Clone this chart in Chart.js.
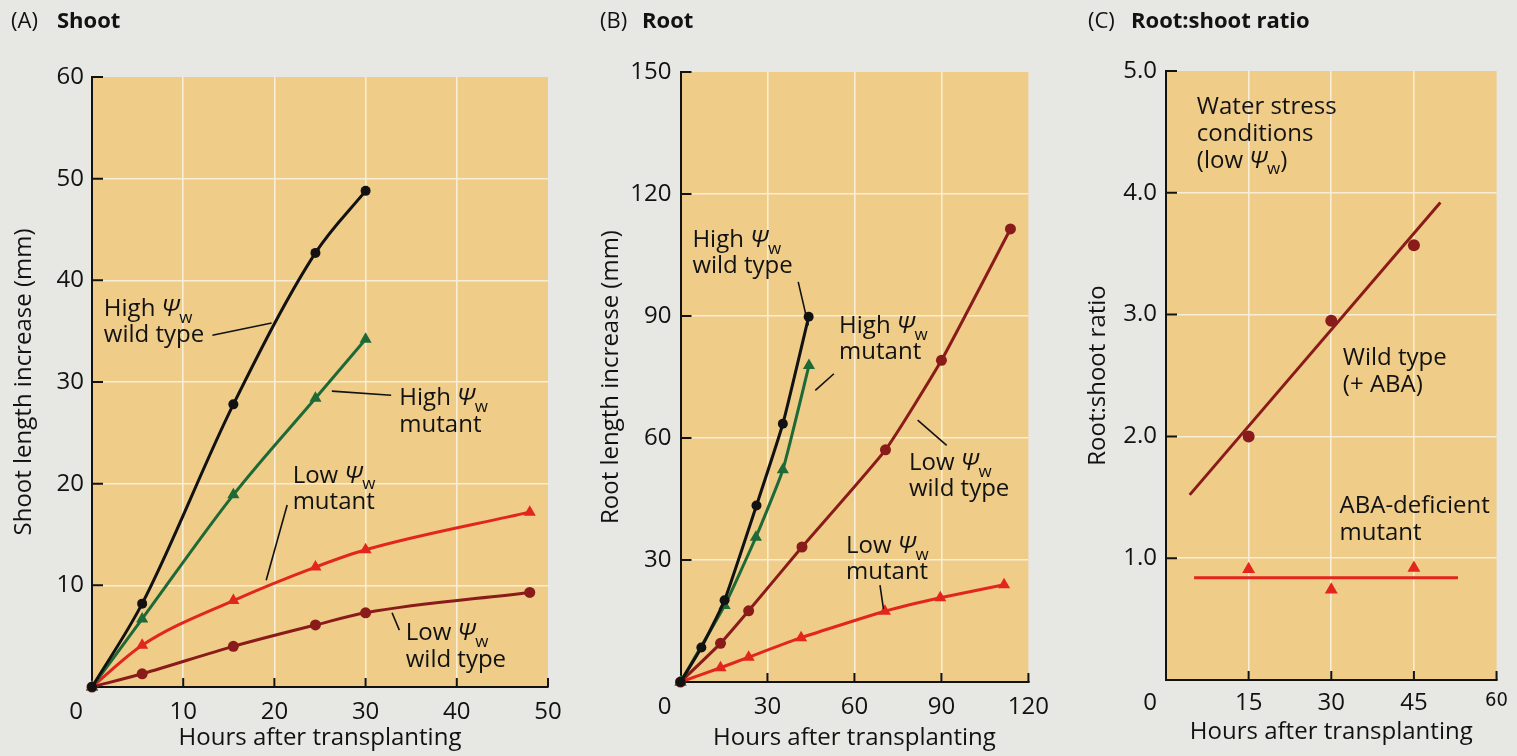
<!DOCTYPE html>
<html><head><meta charset="utf-8">
<script src="https://cdn.jsdelivr.net/npm/chart.js@4.4.0/dist/chart.umd.min.js"></script>
<style>
html,body{margin:0;padding:0;background:#e7e7e4;width:1517px;height:756px;overflow:hidden}
.p{position:absolute;top:0;height:756px}
canvas{display:block}
</style></head><body>
<div class="p" style="left:0;width:590px"><canvas id="cA" width="590" height="756"></canvas></div>
<div class="p" style="left:590px;width:470px"><canvas id="cB" width="470" height="756"></canvas></div>
<div class="p" style="left:1060px;width:457px"><canvas id="cC" width="457" height="756"></canvas></div>
<script>
// ---------- DATA ----------
// (A) Shoot
const shootHours      = [0, 5.5, 15.5, 24.5, 30, 48];
const shootHighWild   = [0, 8.2, 27.8, 42.7, 48.8];
const shootHighMutant = [0, 6.7, 18.9, 28.4, 34.2];
const shootLowMutant  = [0, 4.1, 8.5, 11.8, 13.5, 17.2];
const shootLowWild    = [0, 1.3, 4.0, 6.1, 7.3, 9.3];
const shootXTicks = [0, 10, 20, 30, 40, 50];
const shootYTicks = [0, 10, 20, 30, 40, 50, 60];

// (B) Root
const rootHoursHighWild   = [0, 7.2, 15.2, 26.2, 35.3, 44.2];
const rootHighWild        = [0, 8.5, 20.1, 43.4, 63.5, 89.8];
const rootHoursHighMutant = [0, 15.2, 26.0, 35.3, 44.3];
const rootHighMutant      = [0, 18.8, 35.6, 52.2, 77.8];
const rootHoursLowWild    = [0, 13.8, 23.5, 41.9, 70.7, 90, 113.8];
const rootLowWild         = [0, 9.5, 17.5, 33.2, 57.1, 79.1, 111.4];
const rootHoursLowMutant  = [0, 13.8, 23.5, 41.6, 70.5, 89.6, 111.6];
const rootLowMutant       = [0, 3.5, 6.1, 10.9, 17.4, 20.7, 23.9];
const rootXTicks = [0, 30, 60, 90, 120];
const rootYTicks = [0, 30, 60, 90, 120, 150];

// (C) Root:shoot ratio
const ratioHours       = [15, 30, 45];
const ratioWildABA     = [2.0, 2.95, 3.57];
const ratioMutant      = [0.91, 0.74, 0.92];
const ratioWildFitX    = [4.3, 49.8];
const ratioWildFitY    = [1.52, 3.92];
const ratioMutantFitX  = [5.1, 53];
const ratioMutantFitY  = [0.84, 0.84];
const ratioXTicks = [0, 15, 30, 45, 60];
const ratioYTicks = [0, 1, 2, 3, 4, 5];

// Text labels
const panelTitles = [['(A)', 'Shoot'], ['(B)', 'Root'], ['(C)', 'Root:shoot ratio']];
const xTitle = 'Hours after transplanting';
const yTitles = ['Shoot length increase (mm)', 'Root length increase (mm)', 'Root:shoot ratio'];
const shootNotes = [
  {lines: ['High *Ψ*_w_', 'wild type'], at: [1.3, 36.5], leader: [[13.2, 34.6], [19.7, 35.8]]},
  {lines: ['High *Ψ*_w_', 'mutant'], at: [33.7, 27.7], leader: [[26.3, 29.1], [32.8, 28.7]]},
  {lines: ['Low *Ψ*_w_', 'mutant'], at: [22.0, 20.1], leader: [[21.4, 17.9], [19.1, 10.5]]},
  {lines: ['Low *Ψ*_w_', 'wild type'], at: [34.4, 4.6], leader: [[32.9, 7.3], [33.7, 5.6]]}
];
const rootNotes = [
  {lines: ['High *Ψ*_w_', 'wild type'], at: [4.1, 107.0], leader: [[40.6, 98.4], [44.1, 87.7]]},
  {lines: ['High *Ψ*_w_', 'mutant'], at: [54.7, 85.7], leader: [[52.9, 75.8], [46.5, 71.7]]},
  {lines: ['Low *Ψ*_w_', 'wild type'], at: [78.8, 52.1], leader: [[91.8, 58.2], [81.8, 64.4]]},
  {lines: ['Low *Ψ*_w_', 'mutant'], at: [57.1, 31.6], leader: [[68.8, 23.8], [70.0, 18.0]]}
];
const ratioNotes = [
  {lines: ['Water stress', 'conditions', '(low *Ψ*_w_)'], at: [5.6, 4.65]},
  {lines: ['Wild type', '(+ ABA)'], at: [32.1, 2.59]},
  {lines: ['ABA-deficient', 'mutant'], at: [31.5, 1.37]}
];

// ---------- STYLE ----------
const FONT = '"Open Sans", "DejaVu Sans", sans-serif';
const FS = 24;
const TAN = '#efcc88';
const GRID = '#f8eed5';
const INK = '#121212';
const C_BLACK = '#121212', C_GREEN = '#1e6a36', C_RED = '#e2261d', C_DARK = '#8a1b1b';

const pts = (xs, ys) => ys.map((y, i) => ({x: xs[i], y}));

function richText(ctx, x, y, str, size) {
  const parts = str.split(/(\*[^*]+\*|_[^_]+_)/).filter(s => s.length);
  let cx = x;
  for (const p of parts) {
    let s = size, dy = 0, st = '', t = p;
    if (p.startsWith('*')) { st = 'italic '; t = p.slice(1, -1); }
    else if (p.startsWith('_')) { s = Math.round(size * 0.72); dy = size * 0.28; t = p.slice(1, -1); }
    ctx.font = `${st}${s}px ${FONT}`;
    ctx.fillText(t, cx, y + dy);
    cx += ctx.measureText(t).width;
  }
}

function decoPlugin(idx, notes, lineGap, titleX, titleNameX) {
  return {
    id: 'deco' + idx,
    beforeDraw(chart) {
      const {ctx, chartArea: a} = chart;
      ctx.save();
      ctx.fillStyle = TAN;
      ctx.fillRect(a.left, a.top, a.right - a.left, a.bottom - a.top);
      ctx.restore();
    },
    afterDraw(chart) {
      const {ctx, chartArea: a, scales: {x, y}} = chart;
      ctx.save();
      // inward tick marks
      ctx.strokeStyle = INK; ctx.lineWidth = 2;
      ctx.beginPath();
      x.ticks.forEach(t => { if (t.value !== 0) { const px = x.getPixelForValue(t.value); ctx.moveTo(px, a.bottom); ctx.lineTo(px, a.bottom - 9); } });
      y.ticks.forEach(t => { if (t.value !== 0) { const py = y.getPixelForValue(t.value); ctx.moveTo(a.left, py); ctx.lineTo(a.left + 11, py); } });
      ctx.stroke();
      // shared origin label
      const items = x.getLabelItems();
      const it = items.find(i => i.label !== '');
      ctx.fillStyle = INK;
      ctx.font = `${FS}px ${FONT}`;
      ctx.textAlign = 'center';
      ctx.textBaseline = it.options.textBaseline;
      ctx.fillText('0', a.left - 16, it.options.translation[1] + it.textOffset);
      // panel title
      ctx.textAlign = 'left'; ctx.textBaseline = 'alphabetic';
      ctx.font = `22px ${FONT}`;
      ctx.fillText(panelTitles[idx][0], titleX, 28);
      ctx.font = `bold 22px ${FONT}`;
      ctx.fillText(panelTitles[idx][1], titleNameX, 28);
      // annotations
      notes.forEach(n => {
        const tx = x.getPixelForValue(n.at[0]), ty = y.getPixelForValue(n.at[1]);
        n.lines.forEach((l, k) => richText(ctx, tx, ty + k * lineGap, l, FS));
        if (n.leader) {
          ctx.lineWidth = 1.6; ctx.strokeStyle = INK;
          ctx.beginPath();
          ctx.moveTo(x.getPixelForValue(n.leader[0][0]), y.getPixelForValue(n.leader[0][1]));
          ctx.lineTo(x.getPixelForValue(n.leader[1][0]), y.getPixelForValue(n.leader[1][1]));
          ctx.stroke();
        }
      });
      ctx.restore();
    }
  };
}

function lineDS(data, color, style, r) {
  return {data, borderColor: color, backgroundColor: color, borderWidth: 3,
    pointStyle: style, pointRadius: r, pointHoverRadius: r, pointBorderWidth: 0,
    cubicInterpolationMode: 'monotone', clip: false, showLine: true};
}
const softDS = (data, color, style, r) => Object.assign(lineDS(data, color, style, r), {cubicInterpolationMode: 'default', tension: 0.15});

function axisCfg(o) {
  const max = o.ticks[o.ticks.length - 1];
  return {
    type: 'linear', min: o.ticks[0], max,
    afterFit: o.fit,
    afterBuildTicks: s => { s.ticks = o.ticks.map(v => ({value: v})); },
    ticks: {autoSkip: false, maxRotation: 0, padding: o.pad, color: INK,
      font: o.font || {family: FONT, size: FS},
      callback: v => v === 0 ? '' : (o.fmt ? o.fmt(v) : String(v))},
    grid: {drawTicks: false, lineWidth: 1.6,
      color: c => (c.tick && (c.tick.value === 0 || c.tick.value === max)) ? 'rgba(0,0,0,0)' : GRID},
    border: {display: true, color: INK, width: 2},
    title: {display: true, text: o.title, color: INK, font: {family: FONT, size: FS}, padding: o.tpad}
  };
}

function make(id, idx, datasets, xo, yo, pad, notes, lineGap, tX, tNX) {
  new Chart(document.getElementById(id), {
    type: 'line',
    data: {datasets},
    options: {
      responsive: false, animation: false, events: [],
      layout: {padding: pad, autoPadding: false},
      plugins: {legend: {display: false}, tooltip: {enabled: false}},
      scales: {x: axisCfg(xo), y: axisCfg(yo)}
    },
    plugins: [decoPlugin(idx, notes, lineGap, tX, tNX)]
  });
}

// (A)
make('cA', 0, [
  lineDS(pts(shootHours, shootHighWild), C_BLACK, 'circle', 5),
  lineDS(pts(shootHours, shootHighMutant), C_GREEN, 'triangle', 7),
  lineDS(pts(shootHours, shootLowMutant), C_RED, 'triangle', 7),
  lineDS(pts(shootHours, shootLowWild), C_DARK, 'circle', 5.5)
], {ticks: shootXTicks, fit: s => { s.height = 69; }, pad: 11, title: xTitle, tpad: {top: 0, bottom: 3}},
   {ticks: shootYTicks, fit: s => { s.width = 92; }, pad: 8, title: yTitles[0], tpad: {top: 10, bottom: 0}},
   {left: 0, top: 77, right: 42, bottom: 0}, shootNotes, 26.5, 11, 57);

// (B)
make('cB', 1, [
  softDS(pts(rootHoursHighWild, rootHighWild), C_BLACK, 'circle', 5),
  softDS(pts(rootHoursHighMutant, rootHighMutant), C_GREEN, 'triangle', 7),
  softDS(pts(rootHoursLowWild, rootLowWild), C_DARK, 'circle', 5.5),
  softDS(pts(rootHoursLowMutant, rootLowMutant), C_RED, 'triangle', 7)
], {ticks: rootXTicks, fit: s => { s.height = 74; }, pad: 11, title: xTitle, tpad: {top: 0, bottom: 3}},
   {ticks: rootYTicks, fit: s => { s.width = 90.5; }, pad: 9, title: yTitles[1], tpad: {top: 7, bottom: 0}},
   {left: 0, top: 72, right: 28, bottom: 0}, rootNotes, 26, 10, 52);

// (C)
const scatterDS = (data, color, style, r) => Object.assign(lineDS(data, color, style, r), {showLine: false});
const fitDS = (data, color) => Object.assign(lineDS(data, color, 'circle', 0), {borderWidth: 3, cubicInterpolationMode: 'default', tension: 0});
make('cC', 2, [
  fitDS(pts(ratioWildFitX, ratioWildFitY), C_DARK),
  fitDS(pts(ratioMutantFitX, ratioMutantFitY), C_RED),
  scatterDS(pts(ratioHours, ratioWildABA), C_DARK, 'circle', 6),
  scatterDS(pts(ratioHours, ratioMutant), C_RED, 'triangle', 7.5)
], {ticks: ratioXTicks, fit: s => { s.height = 76; }, pad: 9, title: xTitle, tpad: {top: 0, bottom: 9},
    font: c => (c.tick && c.tick.value === 60) ? {family: '"Liberation Sans Narrow", "DejaVu Sans Condensed", sans-serif', size: 20} : {family: FONT, size: FS}},
   {ticks: ratioYTicks, fit: s => { s.width = 106; }, pad: 9, title: yTitles[2], tpad: {top: 24, bottom: 0}, fmt: v => v.toFixed(1)},
   {left: 0, top: 71, right: 9, bottom: 0}, ratioNotes, 27, 28, 71);
</script>
</body></html>
